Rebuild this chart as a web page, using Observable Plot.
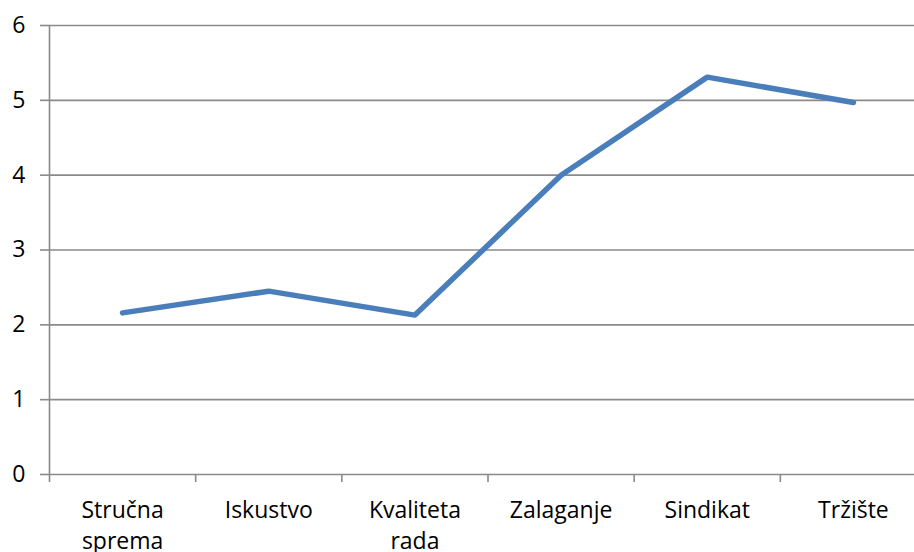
<!DOCTYPE html>
<html>
<head>
<meta charset="utf-8">
<script src="https://cdn.jsdelivr.net/npm/d3@7"></script>
<script src="https://cdn.jsdelivr.net/npm/@observablehq/plot@0.6"></script>
<style>
  html, body { margin: 0; padding: 0; background: #fff; overflow: hidden; }
  svg { display: block; }
</style>
</head>
<body>
<div id="chart"></div>
<script>
const categories = ["Stručna sprema", "Iskustvo", "Kvaliteta rada", "Zalaganje", "Sindikat", "Tržište"];
const categoryLabels = ["Stručna\nsprema", "Iskustvo", "Kvaliteta\nrada", "Zalaganje", "Sindikat", "Tržište"];
const values = [2.16, 2.45, 2.13, 4.0, 5.31, 4.97];
const yTicks = [0, 1, 2, 3, 4, 5, 6];

const data = categories.map((c, i) => ({ category: c, label: categoryLabels[i], pos: i + 0.5, value: values[i] }));
const boundaries = d3.range(categories.length + 1);

const gray = "#8a8a8a";
const font = "'Open Sans', 'Liberation Sans', sans-serif";

const chart = Plot.plot({
  width: 914,
  height: 552,
  marginLeft: 49,
  marginRight: -12,
  marginTop: 25,
  marginBottom: 78,
  style: { fontFamily: font, fontSize: "23px", color: "#000", background: "#fff" },
  x: { type: "linear", domain: [0, categories.length] },
  y: { domain: [0, 6] },
  marks: [
    Plot.ruleY(yTicks, { stroke: gray, strokeWidth: 1.6 }),
    Plot.ruleX([0], { stroke: gray, strokeWidth: 1.6 }),
    Plot.axisY(yTicks, { tickSize: 9, tickPadding: 15, tickFormat: "d", stroke: gray, strokeWidth: 1.6, label: null, fontSize: 23, fill: "#000" }),
    Plot.axisX(boundaries, { tickSize: 8, tickFormat: () => "", stroke: gray, strokeWidth: 1.6, label: null }),
    Plot.text(data, { x: "pos", y: 0, text: "label", lineAnchor: "top", dy: 22, lineHeight: 1.34, fontSize: 23, fill: "#000" }),
    Plot.line(data, { x: "pos", y: "value", stroke: "#4a7ebb", strokeWidth: 5.5, strokeLinecap: "round" })
  ]
});
document.getElementById("chart").appendChild(chart);
</script>
</body>
</html>
